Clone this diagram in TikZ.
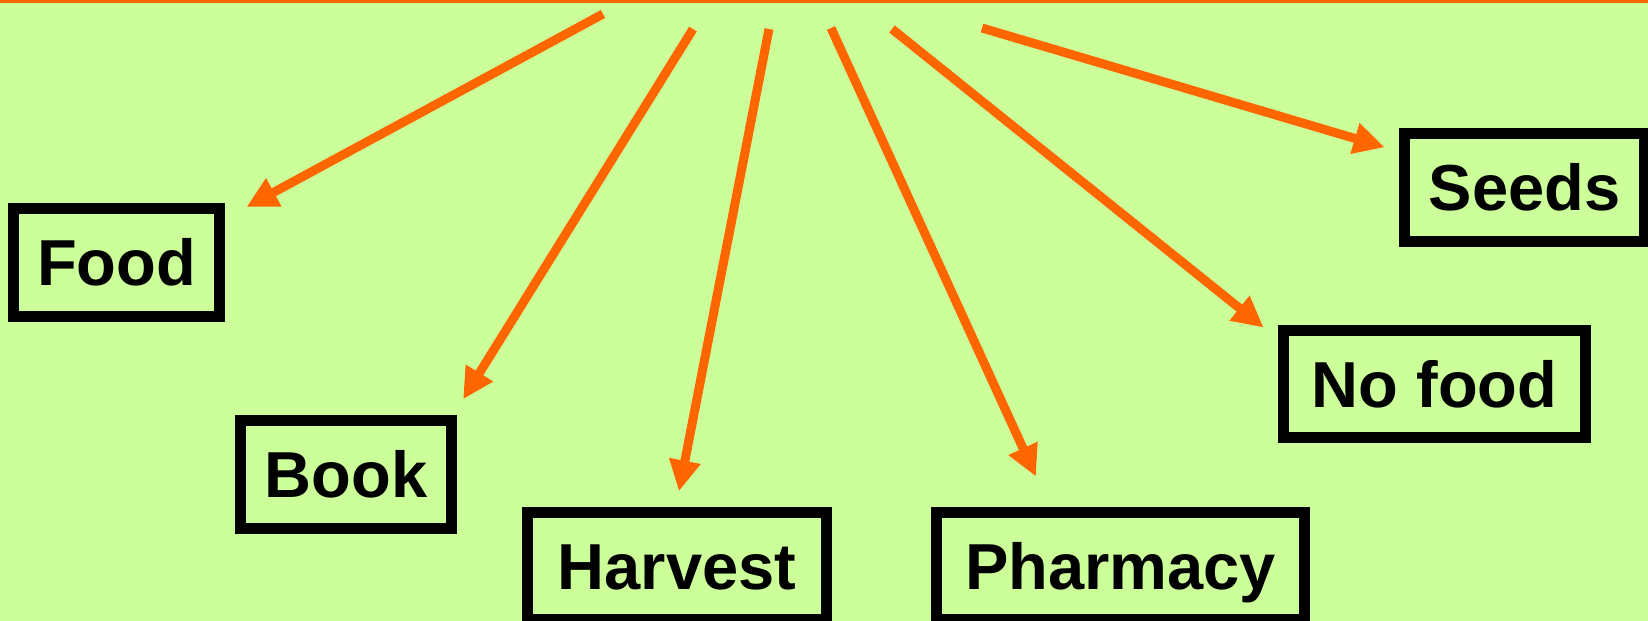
\documentclass[tikz,border=0pt]{standalone}
\usepackage{fontspec}
\setmainfont{Liberation Sans}
\usepackage{xcolor}
\usetikzlibrary{arrows.meta}
\definecolor{bgcol}{HTML}{CCFF99}
\definecolor{arrcol}{HTML}{FF6600}

\begin{document}
\begin{tikzpicture}[x=0.02cm,y=-0.02cm,
    box/.style={draw,line width=0.22cm,minimum height=2.16cm,inner sep=0pt,
      text height=0.93cm,text depth=0pt,font=\fontsize{37}{44}\selectfont\bfseries},
    arrow/.style={draw=arrcol,line width=0.18cm,-{Triangle[length=0.62cm,width=0.6cm]}}]
            % Background
            \useasboundingbox (0,0) rectangle (1648,621);
            \fill[bgcol] (0,0) rectangle (1648,621);
            \fill[arrcol] (0,0) rectangle (1648,3.5);

            % Nodes
            \node[box,minimum width=4.12cm] (food) at (116.5,262.5) {Food};
            \node[box,minimum width=4.22cm] (book) at (346,474.5) {Book};
            \node[box,minimum width=5.98cm] (harvest) at (677,566) {Harvest};
            \node[box,minimum width=7.36cm] (pharmacy) at (1120.5,566) {Pharmacy};
            \node[box,minimum width=6.04cm] (nofood) at (1434.5,384) {No food};
            \node[box,minimum width=4.8cm] (seeds) at (1524.5,187.5) {Seeds};

            % Starts
            \coordinate (s1) at (603,14);
            \coordinate (s2) at (693,29);
            \coordinate (s3) at (769,29);
            \coordinate (s4) at (831,28);
            \coordinate (s5) at (892,29);
            \coordinate (s6) at (982,28);

            % Edges
            \draw[arrow,shorten >=0.49cm] (s1) -- (food.22);
            \draw[arrow,shorten >=0.37cm] (s2) -- (book.29);
            \draw[arrow,shorten >=0.31cm] (s3) -- (harvest.91);
            \draw[arrow,shorten >=0.66cm] (s4) -- (pharmacy.140);
            \draw[arrow,shorten >=0.37cm] (s5) -- (nofood.164.7);
            \draw[arrow,shorten >=0.30cm] (s6) -- (seeds.164.5);
        \end{tikzpicture}
\end{document}
